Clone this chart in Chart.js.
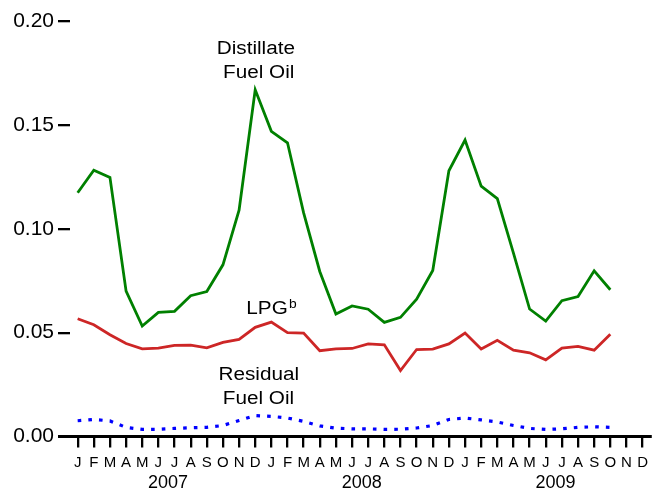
<!DOCTYPE html>
<html><head><meta charset="utf-8">
<script src="https://cdn.jsdelivr.net/npm/chart.js@4.4.0/dist/chart.umd.min.js"></script>
<style>html,body{margin:0;padding:0;background:#fff;}#wrap{width:654px;height:491px;}</style>
</head><body><div id="wrap"><canvas id="c" width="654" height="491"></canvas></div>
<script>
// ---- data ----
const monthLetters = ['J','F','M','A','M','J','J','A','S','O','N','D'];
const years = ['2007','2008','2009'];
const categories = [];
years.forEach(y => monthLetters.forEach(m => categories.push(m + ' ' + y)));

const distillate = [
  0.1174, 0.1283, 0.1248, 0.0700, 0.0532, 0.0598, 0.0603, 0.0678, 0.0698, 0.0827, 0.1090, 0.1670,
  0.1470, 0.1415, 0.1077, 0.0795, 0.0590, 0.0629, 0.0613, 0.0550, 0.0574, 0.0661, 0.0800, 0.1280,
  0.1428, 0.1206, 0.1146, 0.0883, 0.0614, 0.0556, 0.0654, 0.0674, 0.0798, 0.0707
];
const lpg = [
  0.0567, 0.0538, 0.0490, 0.0448, 0.0422, 0.0426, 0.0439, 0.0440, 0.0427, 0.0453, 0.0468, 0.0526,
  0.0551, 0.0500, 0.0498, 0.0413, 0.0422, 0.0424, 0.0446, 0.0442, 0.0318, 0.0419, 0.0421, 0.0446,
  0.0498, 0.0421, 0.0463, 0.0416, 0.0403, 0.0369, 0.0426, 0.0434, 0.0416, 0.0493
];
const residual = [
  0.0076, 0.0082, 0.0075, 0.0044, 0.0034, 0.0035, 0.0039, 0.0042, 0.0044, 0.0053, 0.0077, 0.0101,
  0.0097, 0.0089, 0.0073, 0.0051, 0.0040, 0.0037, 0.0037, 0.0034, 0.0035, 0.0041, 0.0053, 0.0082,
  0.0089, 0.0080, 0.0070, 0.0053, 0.0039, 0.0034, 0.0037, 0.0044, 0.0047, 0.0044
];
const yTickValues = [0, 0.05, 0.10, 0.15, 0.20];

// annotation labels placed in data coordinates (month index, value)
const annotations = [
  {text: 'Distillate', x: 11.04, y: 0.1843},
  {text: 'Fuel Oil',   x: 11.22, y: 0.1729},
  {text: 'Residual',   x: 11.22, y: 0.0272},
  {text: 'Fuel Oil',   x: 11.20, y: 0.0157}
];
const lpgLabel = {text: 'LPG', sup: 'b', x: 10.45, y: 0.0590};

const FONT = '"Liberation Sans", Arial, Helvetica, sans-serif';
const pts = arr => arr.map((v, i) => ({x: i, y: v}));

const extras = {
  id: 'extras',
  afterDraw(chart) {
    const ctx = chart.ctx, xs = chart.scales.x, ys = chart.scales.y, ca = chart.chartArea;
    ctx.save();
    // x axis line
    ctx.strokeStyle = '#000'; ctx.lineWidth = 3; ctx.lineCap = 'butt';
    const y0 = ys.getPixelForValue(0);
    ctx.beginPath(); ctx.moveTo(58, y0); ctx.lineTo(ca.right, y0); ctx.stroke();
    // year labels
    ctx.fillStyle = '#000';
    ctx.font = '18px ' + FONT; ctx.textAlign = 'center'; ctx.textBaseline = 'alphabetic';
    years.forEach((yr, k) => ctx.fillText(yr, xs.getPixelForValue(k * 12 + 5.6), 488));
    // annotations (horizontally stretched)
    const sx = 1.15;
    ctx.font = '18px ' + FONT;
    annotations.forEach(a => {
      ctx.save();
      ctx.translate(xs.getPixelForValue(a.x), ys.getPixelForValue(a.y));
      ctx.scale(sx, 1);
      ctx.textAlign = 'center';
      ctx.fillText(a.text, 0, 0);
      ctx.restore();
    });
    // LPG with superscript
    ctx.save();
    const lx = xs.getPixelForValue(lpgLabel.x), ly = ys.getPixelForValue(lpgLabel.y);
    ctx.translate(lx, ly); ctx.scale(sx, 1);
    ctx.textAlign = 'left';
    ctx.font = '18px ' + FONT;
    ctx.fillText(lpgLabel.text, 0, 0);
    const w = ctx.measureText(lpgLabel.text).width;
    ctx.font = '12px ' + FONT;
    ctx.fillText(lpgLabel.sup, w + 1, -6);
    ctx.restore();
    ctx.restore();
  }
};

new Chart(document.getElementById('c'), {
  type: 'line',
  data: {
    datasets: [
      {label: 'Distillate Fuel Oil', data: pts(distillate), borderColor: '#008000', borderWidth: 2.8, pointRadius: 0, tension: 0, fill: false},
      {label: 'LPG', data: pts(lpg), borderColor: '#CD2626', borderWidth: 2.8, pointRadius: 0, tension: 0, fill: false},
      {label: 'Residual Fuel Oil', data: pts(residual), borderColor: '#0000FF', borderWidth: 3.2, borderDash: [3.6, 7.1], borderCapStyle: 'butt', pointRadius: 0, tension: 0, fill: false}
    ]
  },
  options: {
    responsive: false,
    animation: false,
    devicePixelRatio: 1,
    layout: {padding: {top: 21.3, right: 0, left: 0, bottom: 0}},
    plugins: {legend: {display: false}, tooltip: {enabled: false}, title: {display: false}},
    scales: {
      x: {
        type: 'linear',
        min: -0.475, max: 35.57,
        afterBuildTicks: s => { s.ticks = categories.map((_, i) => ({value: i})); },
        afterFit: s => { s.height = 54.5; },
        border: {display: false},
        grid: {display: true, drawOnChartArea: false, drawTicks: true, tickLength: 11, color: '#000', lineWidth: 2.3},
        ticks: {
          autoSkip: false, maxRotation: 0, padding: 6, color: '#000',
          font: {family: FONT, size: 15},
          callback: (v) => categories[v] ? categories[v].split(' ')[0] : ''
        }
      },
      y: {
        type: 'linear',
        min: 0, max: 0.20,
        afterBuildTicks: s => { s.ticks = yTickValues.map(v => ({value: v})); },
        afterFit: s => { s.width = 70; },
        border: {display: false},
        grid: {display: true, drawOnChartArea: false, drawTicks: true, tickLength: 12, color: '#000', lineWidth: 2.3},
        ticks: {
          padding: 4, color: '#000',
          font: {family: FONT, size: 21},
          callback: v => Number(v).toFixed(2)
        }
      }
    }
  },
  plugins: [extras]
});
</script>
</body></html>
